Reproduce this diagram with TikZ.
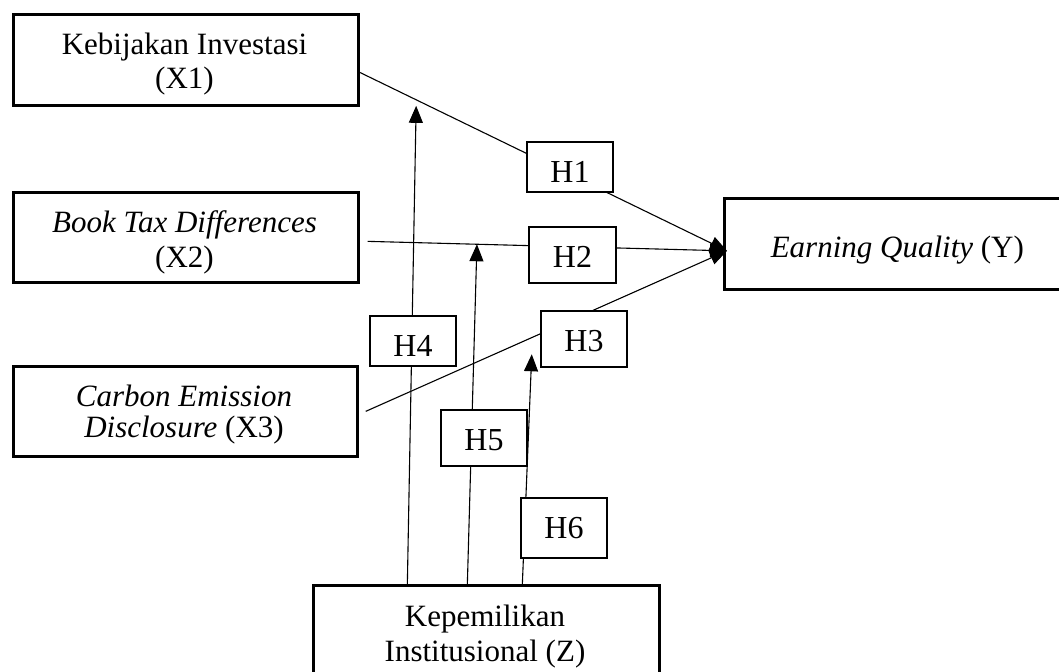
\documentclass[tikz,border=0pt]{standalone}
\usepackage{fontspec}
\setmainfont{Liberation Serif}
\usepackage{tikz}
\usetikzlibrary{arrows.meta}
\tikzset{
  varbox/.style={draw,line width=1.35pt,fill=white,inner sep=0pt,anchor=north west},
  vartext/.style={font=\fontsize{15.5}{18}\selectfont,anchor=base,inner sep=0pt},
  hbox/.style={draw,line width=1.1pt,fill=white,inner sep=0pt,minimum width=43pt,
    font=\fontsize{16}{19}\selectfont,text depth=0pt},
  link/.style={line width=0.55pt,-{Triangle[width=7pt,length=8.5pt]}}
}

\begin{document}
\begin{tikzpicture}[x=0.5pt,y=-0.5pt]
    \useasboundingbox (0,0) rectangle (1059,671);
    \fill[white] (0,0) rectangle (1059,671);
    \clip (0,0) rectangle (1059,671);
    \node[varbox,minimum width=172.5pt,minimum height=45.5pt] (x1) at (12,13) {};
    \node[vartext] (x1a) at (184.5,54) {Kebijakan Investasi};
    \node[vartext] (x1b) at (184.5,88) {(X1)};
    \node[varbox,minimum width=172.5pt,minimum height=45pt] (x2) at (12,191) {};
    \node[vartext] (x2a) at (184.5,232) {\textit{Book Tax Differences}};
    \node[vartext] (x2b) at (184.5,267) {(X2)};
    \node[varbox,minimum width=172pt,minimum height=45pt] (x3) at (12,365) {};
    \node[vartext] (x3a) at (184,406) {\textit{Carbon Emission}};
    \node[vartext] (x3b) at (184,437) {\textit{Disclosure} (X3)};
    \node[varbox,minimum width=173pt,minimum height=45.5pt,font=\fontsize{15.5}{18}\selectfont,
      text height=14pt,text depth=0pt] (y) at (723,197) {\textit{Earning Quality} (Y)};
    \node[varbox,minimum width=173pt,minimum height=48pt] (z) at (312,584) {};
    \node[vartext] (za) at (485,626) {Kepemilikan};
    \node[vartext] (zb) at (485,661) {Institusional (Z)};
    \coordinate (yin) at ([xshift=2pt,yshift=-3.5pt]y.west);
    \draw[link] ([yshift=-6.25pt]x1.east) -- coordinate[pos=0.154] (m1) (yin);
    \draw[link] ([xshift=4pt,yshift=-2pt]x2.east) -- coordinate[pos=0.304] (m2) (yin);
    \draw[link] ([xshift=3.5pt]x3.east) -- coordinate[pos=0.4615] (m3) (yin);
    \draw[link,shorten >=3pt] ([xshift=-39.5pt]z.north) -- (m1);
    \draw[link] ([xshift=-9.5pt]z.north) -- (m2);
    \draw[link,shorten >=8.5pt] ([xshift=18pt]z.north) -- (m3);
    \node[hbox,minimum height=25pt,text height=15pt] (h1) at (570,167) {H1};
    \node[hbox,minimum width=43.5pt,minimum height=28pt,text height=12pt] (h2) at (572.5,255) {H2};
    \node[hbox,minimum height=28pt,text height=12pt] (h3) at (584,339) {H3};
    \node[hbox,minimum height=25pt,text height=15pt] (h4) at (413,341) {H4};
    \node[hbox,minimum height=28pt,text height=12pt] (h5) at (484,438) {H5};
    \node[hbox,minimum height=30pt,text height=10pt] (h6) at (564,528) {H6};
\end{tikzpicture}
\end{document}
